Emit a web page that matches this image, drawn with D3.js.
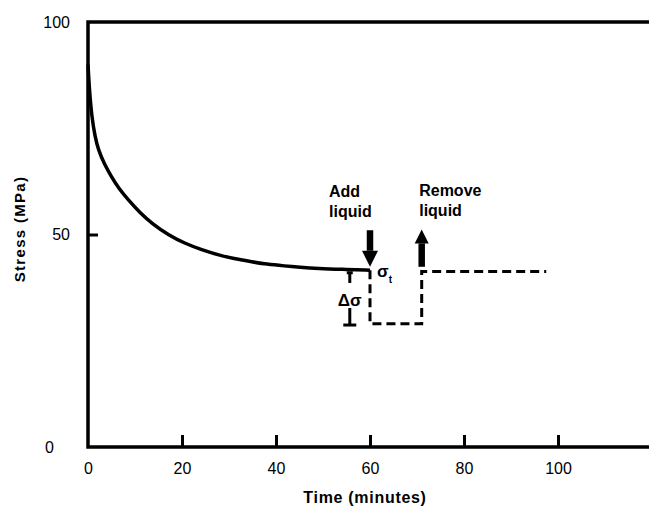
<!DOCTYPE html>
<html>
<head>
<meta charset="utf-8">
<script src="https://cdn.jsdelivr.net/npm/d3@7"></script>
<style>
    body { margin: 0; background: #fff; }
    svg { display: block; font-family: "Liberation Sans", Arial, sans-serif; }
</style>
</head>
<body>
<div id="chart"></div>
<script>
// relaxation curve
const relaxTime = [0, 0.3, 0.8, 1.5, 2.2, 3.5, 5, 6.5, 8.6, 11, 13.6, 17.1, 20.6, 24, 27.7, 31, 34.8, 38, 41.9, 45, 49, 54, 60];
const relaxStress = [90, 84, 77.7, 73, 69.9, 66.5, 63.6, 60.9, 58.1, 55.2, 52.6, 49.9, 47.9, 46.5, 45.2, 44.3, 43.6, 43.0, 42.6, 42.3, 42.0, 41.8, 41.6];

// dashed step after adding / removing liquid
const stepTime = [60, 60, 71, 71, 97.5];
const stepStress = [41.6, 29, 29, 41.3, 41.3];

const xTicks = [0, 20, 40, 60, 80, 100];
const yTicks = [0, 50, 100];

const arrows = [
    { t: 60, from: 51, to: 42.4, text: ["Add", "liquid"] },
    { t: 71, from: 42.4, to: 51.2, text: ["Remove", "liquid"] }
];
const bracket = { t: 55.7, top: 41, bottom: 28.7, gapTop: 38.6, gapBottom: 32.7 };

const W = 649, H = 507;
const x = d3.scaleLinear().domain([0, 120]).range([88, 652]);
const y = d3.scaleLinear().domain([0, 100]).range([447, 22]);

const svg = d3.select("#chart").append("svg")
    .attr("width", W)
    .attr("height", H);

// frame: left axis, bottom axis, top rule
svg.append("path")
    .attr("d", `M${x(120)},${y(100)}H${x(0)}V${y(0)}H${x(120)}`)
    .attr("fill", "none")
    .attr("stroke", "#000")
    .attr("stroke-width", 3.5);

const xAxis = svg.append("g")
    .attr("transform", `translate(0,${y(0)})`)
    .call(d3.axisBottom(x).tickValues(xTicks).tickSize(-12).tickPadding(16).tickFormat(d3.format("d")));
xAxis.select(".domain").remove();
xAxis.selectAll(".tick line").attr("stroke-width", 3).filter(d => d === 0).remove();
xAxis.selectAll(".tick text")
    .attr("font-size", 16)
    .attr("fill", "#000")
    .attr("font-family", "Liberation Sans, Arial, sans-serif");

const yAxis = svg.append("g")
    .attr("transform", `translate(${x(0)},0)`)
    .call(d3.axisLeft(y).tickValues(yTicks).tickSize(-10).tickPadding(18).tickFormat(d3.format("d")));
yAxis.select(".domain").remove();
yAxis.selectAll(".tick line").attr("stroke-width", 3).filter(d => d !== 50).remove();
yAxis.selectAll(".tick text")
    .attr("font-size", 16)
    .attr("fill", "#000")
    .attr("font-family", "Liberation Sans, Arial, sans-serif")
    .attr("dx", d => d === 0 ? -16 : 0);

// axis titles
svg.append("text")
    .attr("x", 365)
    .attr("y", 503)
    .attr("text-anchor", "middle")
    .attr("font-size", 16)
    .attr("font-weight", "bold")
    .attr("letter-spacing", 0.7)
    .text("Time (minutes)");

svg.append("text")
    .attr("transform", "translate(25,229) rotate(-90)")
    .attr("text-anchor", "middle")
    .attr("font-size", 15)
    .attr("font-weight", "bold")
    .attr("letter-spacing", 1.3)
    .text("Stress (MPa)");

// relaxation curve
const relaxData = relaxTime.map((t, i) => ({ t, s: relaxStress[i] }));
svg.append("path")
    .datum(relaxData)
    .attr("fill", "none")
    .attr("stroke", "#000")
    .attr("stroke-width", 3.5)
    .attr("d", d3.line().x(d => x(d.t)).y(d => y(d.s)).curve(d3.curveBasis));

// dashed step
const stepData = stepTime.map((t, i) => ({ t, s: stepStress[i] }));
svg.append("path")
    .datum(stepData)
    .attr("fill", "none")
    .attr("stroke", "#000")
    .attr("stroke-width", 3)
    .attr("stroke-dasharray", "9,5")
    .attr("d", d3.line().x(d => x(d.t)).y(d => y(d.s)));

// arrows and their labels
arrows.forEach((a, i) => {
    const cx = x(a.t);
    const tipY = y(a.to);
    const dir = y(a.to) > y(a.from) ? 1 : -1;
    const headLen = i === 0 ? 16 : 14;
    const half = i === 0 ? 8 : 7;
    const baseY = tipY - dir * headLen;
    svg.append("line")
        .attr("x1", cx).attr("x2", cx)
        .attr("y1", y(a.from)).attr("y2", baseY)
        .attr("stroke", "#000")
        .attr("stroke-width", 6.5);
    svg.append("path")
        .attr("d", `M${cx - half},${baseY}L${cx + half},${baseY}L${cx},${tipY}Z`)
        .attr("fill", "#000");
    const topY = y(Math.max(a.from, a.to));
    const lx = cx - (i === 0 ? 41 : 2.5);
    const label = svg.append("text")
        .attr("x", lx)
        .attr("y", topY - 33)
        .attr("font-size", 16)
        .attr("font-weight", "bold");
    a.text.forEach((line, j) => {
        label.append("tspan")
            .attr("x", lx)
            .attr("dy", j === 0 ? 0 : 20)
            .text(line);
    });
});

// sigma_t label
const sig = svg.append("text")
    .attr("x", x(60) + 7)
    .attr("y", y(41.6) + 7)
    .attr("font-size", 17)
    .attr("font-weight", "bold");
sig.append("tspan").text("σ");
sig.append("tspan").attr("dy", 6).attr("font-size", 10).text("t");

// delta sigma bracket
const bx = x(bracket.t);
[[bracket.top, bracket.gapTop], [bracket.gapBottom, bracket.bottom]].forEach(([a, b]) => {
    svg.append("line")
        .attr("x1", bx).attr("x2", bx)
        .attr("y1", y(a)).attr("y2", y(b))
        .attr("stroke", "#000")
        .attr("stroke-width", 3);
});
svg.append("line")
    .attr("x1", bx - 3).attr("x2", bx + 3)
    .attr("y1", y(bracket.top)).attr("y2", y(bracket.top))
    .attr("stroke", "#000").attr("stroke-width", 3);
svg.append("line")
    .attr("x1", bx - 6.5).attr("x2", bx + 6.5)
    .attr("y1", y(bracket.bottom)).attr("y2", y(bracket.bottom))
    .attr("stroke", "#000").attr("stroke-width", 3);
svg.append("text")
    .attr("x", bx)
    .attr("y", y(bracket.gapBottom) - 2)
    .attr("text-anchor", "middle")
    .attr("font-size", 17)
    .attr("font-weight", "bold")
    .text("Δσ");
</script>
</body>
</html>
